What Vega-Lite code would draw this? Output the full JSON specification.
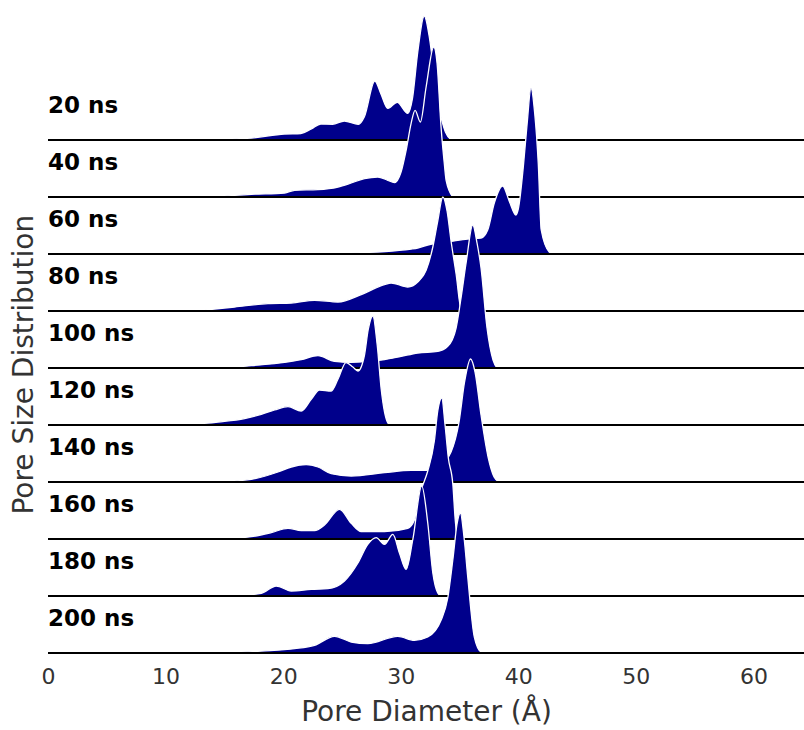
{
  "$schema": "https://vega.github.io/schema/vega-lite/v6.json",
  "padding": {"left": 11, "top": 13, "right": 1, "bottom": 2},
  "background": "white",
  "bounds": "flush",
  "title": {"text": "Pore Size Distribution", "orient": "left", "anchor": "middle", "fontSize": 28, "font": "DejaVu Sans", "fontWeight": "normal", "color": "#333333", "offset": 2, "dx": 5},
  "data": {"values": [
    {"t":"20 ns","d":13.0,"v":0},{"t":"20 ns","d":17.3,"v":0.02},{"t":"20 ns","d":20.1,"v":0.06},{"t":"20 ns","d":21.5,"v":0.065},{"t":"20 ns","d":22.4,"v":0.11},{"t":"20 ns","d":23.2,"v":0.16},{"t":"20 ns","d":24.2,"v":0.157},{"t":"20 ns","d":25.2,"v":0.19},{"t":"20 ns","d":26.4,"v":0.156},{"t":"20 ns","d":26.9,"v":0.23},{"t":"20 ns","d":27.8,"v":0.59},{"t":"20 ns","d":28.3,"v":0.466},{"t":"20 ns","d":28.9,"v":0.316},{"t":"20 ns","d":29.7,"v":0.376},{"t":"20 ns","d":30.6,"v":0.266},{"t":"20 ns","d":31.0,"v":0.416},{"t":"20 ns","d":31.45,"v":0.88},{"t":"20 ns","d":32.0,"v":1.24},{"t":"20 ns","d":32.45,"v":1.016},{"t":"20 ns","d":32.9,"v":0.6},{"t":"20 ns","d":33.3,"v":0.3},{"t":"20 ns","d":33.8,"v":0.08},{"t":"20 ns","d":34.3,"v":0},
    {"t":"40 ns","d":13.9,"v":0},{"t":"40 ns","d":17.3,"v":0.027},{"t":"40 ns","d":20.12,"v":0.04},{"t":"40 ns","d":20.97,"v":0.067},{"t":"40 ns","d":22.96,"v":0.074},{"t":"40 ns","d":24.66,"v":0.1},{"t":"40 ns","d":25.79,"v":0.14},{"t":"40 ns","d":26.92,"v":0.184},{"t":"40 ns","d":28.05,"v":0.2},{"t":"40 ns","d":28.9,"v":0.167},{"t":"40 ns","d":29.46,"v":0.144},{"t":"40 ns","d":30.03,"v":0.25},{"t":"40 ns","d":30.46,"v":0.467},{"t":"40 ns","d":30.88,"v":0.734},{"t":"40 ns","d":31.22,"v":0.867},{"t":"40 ns","d":31.67,"v":0.75},{"t":"40 ns","d":32.16,"v":1.1},{"t":"40 ns","d":32.81,"v":1.5},{"t":"40 ns","d":33.09,"v":1.337},{"t":"40 ns","d":33.43,"v":0.7},{"t":"40 ns","d":33.71,"v":0.33},{"t":"40 ns","d":33.86,"v":0.167},{"t":"40 ns","d":34.43,"v":0},
    {"t":"60 ns","d":19.6,"v":0},{"t":"60 ns","d":25.8,"v":0.01},{"t":"60 ns","d":30.9,"v":0.05},{"t":"60 ns","d":31.45,"v":0.06},{"t":"60 ns","d":32.3,"v":0.09},{"t":"60 ns","d":34.28,"v":0.126},{"t":"60 ns","d":35.7,"v":0.15},{"t":"60 ns","d":36.83,"v":0.16},{"t":"60 ns","d":37.4,"v":0.24},{"t":"60 ns","d":37.96,"v":0.51},{"t":"60 ns","d":38.67,"v":0.68},{"t":"60 ns","d":39.24,"v":0.526},{"t":"60 ns","d":39.8,"v":0.39},{"t":"60 ns","d":40.0,"v":0.45},{"t":"60 ns","d":40.45,"v":0.9},{"t":"60 ns","d":40.75,"v":1.3},{"t":"60 ns","d":41.08,"v":1.66},{"t":"60 ns","d":41.4,"v":1.4},{"t":"60 ns","d":41.7,"v":0.9},{"t":"60 ns","d":41.95,"v":0.24},{"t":"60 ns","d":42.63,"v":0.02},{"t":"60 ns","d":42.95,"v":0},
    {"t":"80 ns","d":12.47,"v":0},{"t":"80 ns","d":15.87,"v":0.04},{"t":"80 ns","d":18.71,"v":0.074},{"t":"80 ns","d":20.69,"v":0.08},{"t":"80 ns","d":22.67,"v":0.107},{"t":"80 ns","d":24.66,"v":0.09},{"t":"80 ns","d":26.64,"v":0.164},{"t":"80 ns","d":28.62,"v":0.264},{"t":"80 ns","d":29.18,"v":0.28},{"t":"80 ns","d":30.6,"v":0.24},{"t":"80 ns","d":31.45,"v":0.29},{"t":"80 ns","d":32.16,"v":0.407},{"t":"80 ns","d":32.73,"v":0.64},{"t":"80 ns","d":33.15,"v":0.9},{"t":"80 ns","d":33.58,"v":1.14},{"t":"80 ns","d":33.94,"v":1.0},{"t":"80 ns","d":34.28,"v":0.7},{"t":"80 ns","d":34.71,"v":0.37},{"t":"80 ns","d":35.13,"v":0.02},{"t":"80 ns","d":35.39,"v":0},
    {"t":"100 ns","d":15.02,"v":0},{"t":"100 ns","d":17.29,"v":0.023},{"t":"100 ns","d":20.12,"v":0.056},{"t":"100 ns","d":21.54,"v":0.083},{"t":"100 ns","d":22.96,"v":0.123},{"t":"100 ns","d":24.37,"v":0.066},{"t":"100 ns","d":25.79,"v":0.056},{"t":"100 ns","d":28.62,"v":0.083},{"t":"100 ns","d":30.03,"v":0.116},{"t":"100 ns","d":31.45,"v":0.15},{"t":"100 ns","d":33.15,"v":0.166},{"t":"100 ns","d":34.0,"v":0.216},{"t":"100 ns","d":34.71,"v":0.4},{"t":"100 ns","d":35.13,"v":0.7},{"t":"100 ns","d":35.56,"v":1.05},{"t":"100 ns","d":36.13,"v":1.43},{"t":"100 ns","d":36.49,"v":1.25},{"t":"100 ns","d":36.83,"v":1.0},{"t":"100 ns","d":37.34,"v":0.4},{"t":"100 ns","d":37.85,"v":0.08},{"t":"100 ns","d":38.19,"v":0},
    {"t":"120 ns","d":11.62,"v":0},{"t":"120 ns","d":14.46,"v":0.03},{"t":"120 ns","d":16.72,"v":0.064},{"t":"120 ns","d":18.14,"v":0.107},{"t":"120 ns","d":19.27,"v":0.15},{"t":"120 ns","d":20.41,"v":0.184},{"t":"120 ns","d":21.54,"v":0.14},{"t":"120 ns","d":22.39,"v":0.257},{"t":"120 ns","d":23.09,"v":0.35},{"t":"120 ns","d":24.09,"v":0.34},{"t":"120 ns","d":24.66,"v":0.457},{"t":"120 ns","d":25.35,"v":0.624},{"t":"120 ns","d":25.93,"v":0.58},{"t":"120 ns","d":26.36,"v":0.54},{"t":"120 ns","d":26.92,"v":0.7},{"t":"120 ns","d":27.23,"v":0.95},{"t":"120 ns","d":27.63,"v":1.09},{"t":"120 ns","d":28.0,"v":0.8},{"t":"120 ns","d":28.34,"v":0.357},{"t":"120 ns","d":28.9,"v":0.02},{"t":"120 ns","d":29.1,"v":0},
    {"t":"140 ns","d":14.46,"v":0},{"t":"140 ns","d":17.29,"v":0.027},{"t":"140 ns","d":19.56,"v":0.1},{"t":"140 ns","d":20.69,"v":0.15},{"t":"140 ns","d":21.96,"v":0.173},{"t":"140 ns","d":22.96,"v":0.15},{"t":"140 ns","d":24.09,"v":0.083},{"t":"140 ns","d":25.79,"v":0.06},{"t":"140 ns","d":28.62,"v":0.093},{"t":"140 ns","d":30.88,"v":0.116},{"t":"140 ns","d":32.3,"v":0.116},{"t":"140 ns","d":33.18,"v":0.15},{"t":"140 ns","d":34.28,"v":0.3},{"t":"140 ns","d":34.96,"v":0.6},{"t":"140 ns","d":35.43,"v":1.0},{"t":"140 ns","d":35.94,"v":1.23},{"t":"140 ns","d":36.32,"v":1.1},{"t":"140 ns","d":36.83,"v":0.67},{"t":"140 ns","d":37.43,"v":0.25},{"t":"140 ns","d":37.94,"v":0.05},{"t":"140 ns","d":38.36,"v":0},
    {"t":"160 ns","d":14.46,"v":0},{"t":"160 ns","d":17.29,"v":0.023},{"t":"160 ns","d":18.99,"v":0.064},{"t":"160 ns","d":20.41,"v":0.107},{"t":"160 ns","d":21.54,"v":0.084},{"t":"160 ns","d":22.67,"v":0.084},{"t":"160 ns","d":23.52,"v":0.14},{"t":"160 ns","d":24.79,"v":0.297},{"t":"160 ns","d":25.79,"v":0.157},{"t":"160 ns","d":26.64,"v":0.074},{"t":"160 ns","d":28.62,"v":0.074},{"t":"160 ns","d":30.6,"v":0.107},{"t":"160 ns","d":31.16,"v":0.19},{"t":"160 ns","d":31.45,"v":0.39},{"t":"160 ns","d":31.82,"v":0.52},{"t":"160 ns","d":32.3,"v":0.68},{"t":"160 ns","d":32.86,"v":0.98},{"t":"160 ns","d":33.15,"v":1.28},{"t":"160 ns","d":33.49,"v":1.41},{"t":"160 ns","d":33.77,"v":1.14},{"t":"160 ns","d":34.05,"v":0.81},{"t":"160 ns","d":34.43,"v":0.55},{"t":"160 ns","d":34.63,"v":0.2},{"t":"160 ns","d":34.8,"v":0.02},{"t":"160 ns","d":34.97,"v":0},
    {"t":"180 ns","d":15.87,"v":0},{"t":"180 ns","d":18.14,"v":0.027},{"t":"180 ns","d":19.41,"v":0.1},{"t":"180 ns","d":20.69,"v":0.05},{"t":"180 ns","d":22.39,"v":0.066},{"t":"180 ns","d":23.81,"v":0.073},{"t":"180 ns","d":25.22,"v":0.15},{"t":"180 ns","d":26.36,"v":0.33},{"t":"180 ns","d":27.2,"v":0.516},{"t":"180 ns","d":27.91,"v":0.583},{"t":"180 ns","d":28.62,"v":0.516},{"t":"180 ns","d":29.33,"v":0.616},{"t":"180 ns","d":29.89,"v":0.43},{"t":"180 ns","d":30.46,"v":0.266},{"t":"180 ns","d":31.03,"v":0.566},{"t":"180 ns","d":31.79,"v":1.1},{"t":"180 ns","d":32.3,"v":0.73},{"t":"180 ns","d":32.73,"v":0.23},{"t":"180 ns","d":33.15,"v":0.03},{"t":"180 ns","d":33.43,"v":0},
    {"t":"200 ns","d":14.46,"v":0},{"t":"200 ns","d":18.14,"v":0.02},{"t":"200 ns","d":20.97,"v":0.043},{"t":"200 ns","d":22.67,"v":0.077},{"t":"200 ns","d":24.37,"v":0.167},{"t":"200 ns","d":25.79,"v":0.11},{"t":"200 ns","d":27.2,"v":0.093},{"t":"200 ns","d":29.75,"v":0.167},{"t":"200 ns","d":31.16,"v":0.127},{"t":"200 ns","d":32.3,"v":0.16},{"t":"200 ns","d":33.43,"v":0.327},{"t":"200 ns","d":34.0,"v":0.55},{"t":"200 ns","d":34.43,"v":0.93},{"t":"200 ns","d":34.79,"v":1.29},{"t":"200 ns","d":35.07,"v":1.4},{"t":"200 ns","d":35.39,"v":1.15},{"t":"200 ns","d":35.7,"v":0.76},{"t":"200 ns","d":36.26,"v":0.16},{"t":"200 ns","d":36.83,"v":0.01},{"t":"200 ns","d":37.1,"v":0}
  ]},
  "facet": {
    "row": {
      "field": "t", "type": "nominal",
      "sort": ["20 ns","40 ns","60 ns","80 ns","100 ns","120 ns","140 ns","160 ns","180 ns","200 ns"],
      "header": {"labels": false, "title": null}
    }
  },
  "spacing": 0,
  "spec": {
    "width": 756,
    "height": 57,
    "layer": [
      {
        "mark": {"type": "area", "color": "#00008b", "stroke": "white", "strokeWidth": 1.3, "interpolate": "monotone", "clip": false},
        "encoding": {
          "x": {"field": "d", "type": "quantitative", "scale": {"domain": [0, 64.3], "nice": false},
            "axis": {"title": "Pore Diameter (Å)", "values": [0, 10, 20, 30, 40, 50, 60], "grid": false, "ticks": false, "domain": false, "labelFlush": false, "labelFontSize": 22, "labelColor": "#333333", "labelPadding": 13, "titleFontSize": 28, "titleFontWeight": "normal", "titleColor": "#333333", "titlePadding": 11}},
          "y": {"field": "v", "type": "quantitative", "scale": {"domain": [0, 1], "range": [57, -43], "nice": false, "zero": false}, "axis": null}
        }
      },
      {
        "mark": {"type": "rule", "color": "black", "strokeWidth": 2},
        "encoding": {"y": {"datum": 0}}
      },
      {
        "transform": [{"aggregate": [{"op": "count", "as": "n"}], "groupby": ["t"]}],
        "mark": {"type": "text", "align": "left", "baseline": "alphabetic", "fontWeight": "bold", "fontSize": 23, "font": "DejaVu Sans", "color": "black"},
        "encoding": {"x": {"datum": 0}, "y": {"datum": 0.266}, "text": {"field": "t"}}
      }
    ]
  },
  "config": {
    "font": "DejaVu Sans",
    "view": {"stroke": null}
  }
}
